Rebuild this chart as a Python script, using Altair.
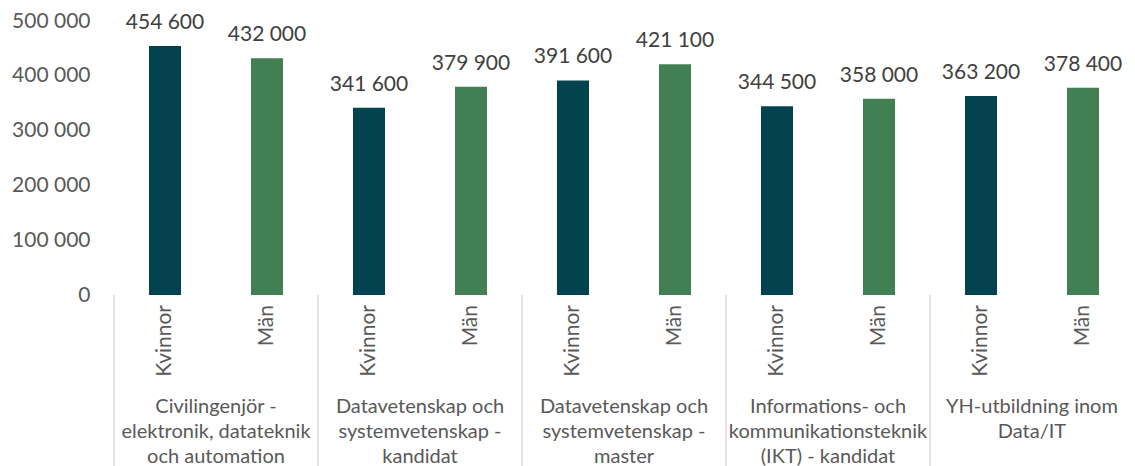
import altair as alt
import pandas as pd

groups = [
    "Civilingenjör -\nelektronik, datateknik\noch automation",
    "Datavetenskap och\nsystemvetenskap -\nkandidat",
    "Datavetenskap och\nsystemvetenskap -\nmaster",
    "Informations- och\nkommunikationsteknik\n(IKT) - kandidat",
    "YH-utbildning inom\nData/IT",
]
genders = ["Kvinnor", "Män"]
kvinnor = [454600, 341600, 391600, 344500, 363200]
man = [432000, 379900, 421100, 358000, 378400]
y_ticks = [0, 100000, 200000, 300000, 400000, 500000]

rows = []
for g, k, m in zip(groups, kvinnor, man):
    rows.append({"group": g, "gender": "Kvinnor", "value": k})
    rows.append({"group": g, "gender": "Män", "value": m})
df = pd.DataFrame(rows)

FONT = "Lato"
W, H = 1020, 274

xenc = alt.X("group:N", sort=groups,
             scale=alt.Scale(paddingInner=0, paddingOuter=0),
             axis=alt.Axis(title=None, labels=False, ticks=False, domain=True,
                           domainColor="#D9D9D9", domainWidth=1.5, grid=False))
xnoaxis = alt.X("group:N", sort=groups, axis=None)
xoff = alt.XOffset("gender:N", sort=genders,
                   scale=alt.Scale(paddingInner=0.686, paddingOuter=0.343))

base = alt.Chart(df)

bars = base.mark_bar().encode(
    x=xenc,
    xOffset=xoff,
    y=alt.Y("value:Q", scale=alt.Scale(domain=[0, 500000], nice=False),
            axis=alt.Axis(title=None, values=y_ticks, grid=False, domain=False,
                          ticks=False, labelFontSize=21, labelFont=FONT,
                          labelColor="#595959", labelPadding=24,
                          labelExpr="replace(format(datum.value, ','), ',', ' ')")),
    color=alt.Color("gender:N", sort=genders,
                    scale=alt.Scale(domain=genders, range=["#02434F", "#428053"]),
                    legend=None),
)

labels = base.mark_text(font=FONT, fontSize=21, color="#404040",
                        baseline="alphabetic", dy=-17).transform_calculate(
    lbl="replace(format(datum.value, ','), ',', ' ')"
).encode(
    x=xnoaxis, xOffset=xoff, y=alt.Y("value:Q"), text="lbl:N"
)

gender_lbl = base.mark_text(font=FONT, fontSize=21, color="#595959",
                            angle=270, align="right", baseline="middle").encode(
    x=xnoaxis, xOffset=xoff, y=alt.value(H + 10), text="gender:N"
)

gdf = pd.DataFrame({"group": groups})
gbase = alt.Chart(gdf)
group_lbl = gbase.mark_text(font=FONT, fontSize=20, color="#595959",
                            lineBreak="\n", lineHeight=25, baseline="middle",
                            align="center").encode(
    x=xnoaxis, y=alt.value(H + 112), text="group:N"
)
seps = gbase.mark_rule(color="#D9D9D9", strokeWidth=1.5).encode(
    x=alt.X("group:N", sort=groups, bandPosition=0, axis=None),
    y=alt.value(H), y2=alt.value(H + 171)
)

chart = alt.layer(bars, labels, gender_lbl, group_lbl, seps).properties(
    width=W, height=H, autosize="none",
    padding={"left": 114, "top": 21, "right": 1, "bottom": 171},
).configure_view(stroke=None)

chart.save("out.html", embed_options={"renderer": "svg", "actions": False})
